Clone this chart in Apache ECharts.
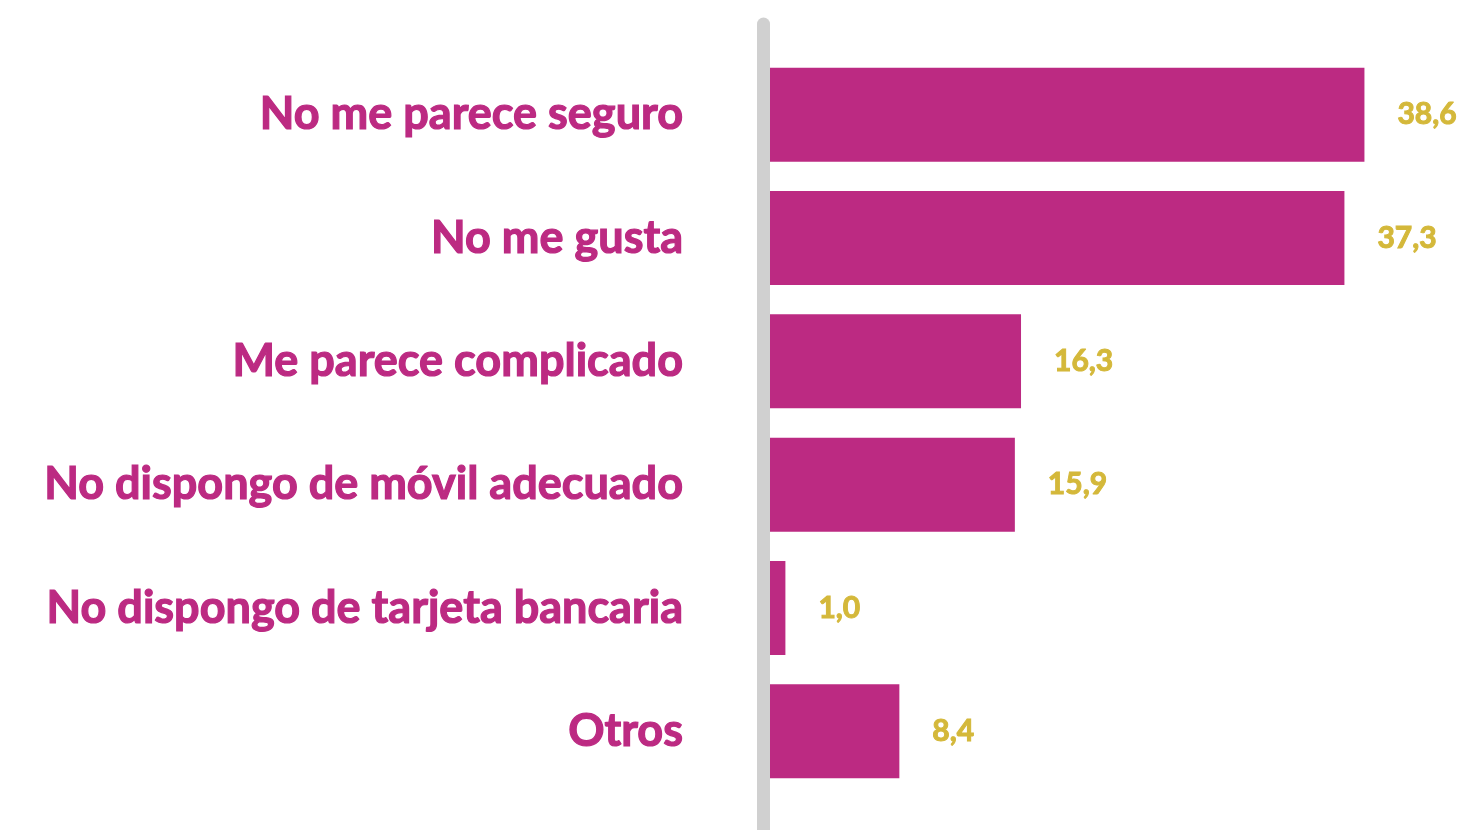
<!DOCTYPE html>
<html>
<head>
<meta charset="utf-8">
<script src="https://cdn.jsdelivr.net/npm/echarts@6/dist/echarts.min.js"></script>
<style>
html,body{margin:0;padding:0;background:#fff;}
#chart{width:1480px;height:830px;}
</style>
</head>
<body>
<div id="chart"></div>
<script>
const categories = [
  'No me parece seguro',
  'No me gusta',
  'Me parece complicado',
  'No dispongo de móvil adecuado',
  'No dispongo de tarjeta bancaria',
  'Otros'
];
const values = [38.6, 37.3, 16.3, 15.9, 1.0, 8.4];

const MAGENTA = '#bc2a82';
const GOLD = '#d4b83a';
const FONT = 'Lato';

const chart = echarts.init(document.getElementById('chart'), null, {renderer: 'canvas'});
chart.setOption({
  animation: false,
  backgroundColor: '#ffffff',
  grid: [
    {left: 770, right: 17, top: 53, bottom: 37, containLabel: false},
    {left: 763.5, width: 1, top: 24, bottom: -20, containLabel: false}
  ],
  xAxis: [
    {type: 'value', gridIndex: 0, min: 0, max: 45, show: false},
    {type: 'value', gridIndex: 1, show: false}
  ],
  yAxis: [
    {
      type: 'category', gridIndex: 0, data: categories, inverse: true,
      axisLine: {show: false}, axisTick: {show: false}, splitLine: {show: false},
      axisLabel: {
        margin: 87, color: MAGENTA, fontFamily: FONT, fontWeight: 'bold', fontSize: 45,
        textBorderColor: MAGENTA, textBorderWidth: 1.2
      }
    },
    {
      type: 'value', gridIndex: 1, min: 0, max: 1,
      axisLine: {show: true, lineStyle: {color: '#d0d0d0', width: 13, cap: 'round'}},
      axisTick: {show: false}, axisLabel: {show: false}, splitLine: {show: false}
    }
  ],
  series: [{
    type: 'bar', xAxisIndex: 0, yAxisIndex: 0,
    data: values, barWidth: 94,
    itemStyle: {color: MAGENTA},
    label: {
      show: true, position: 'right', distance: 33,
      color: GOLD, fontFamily: FONT, fontWeight: 'bold', fontSize: 30,
      textBorderColor: GOLD, textBorderWidth: 1,
      formatter: p => p.value.toFixed(1).replace('.', ',')
    }
  }]
});
</script>
</body>
</html>
